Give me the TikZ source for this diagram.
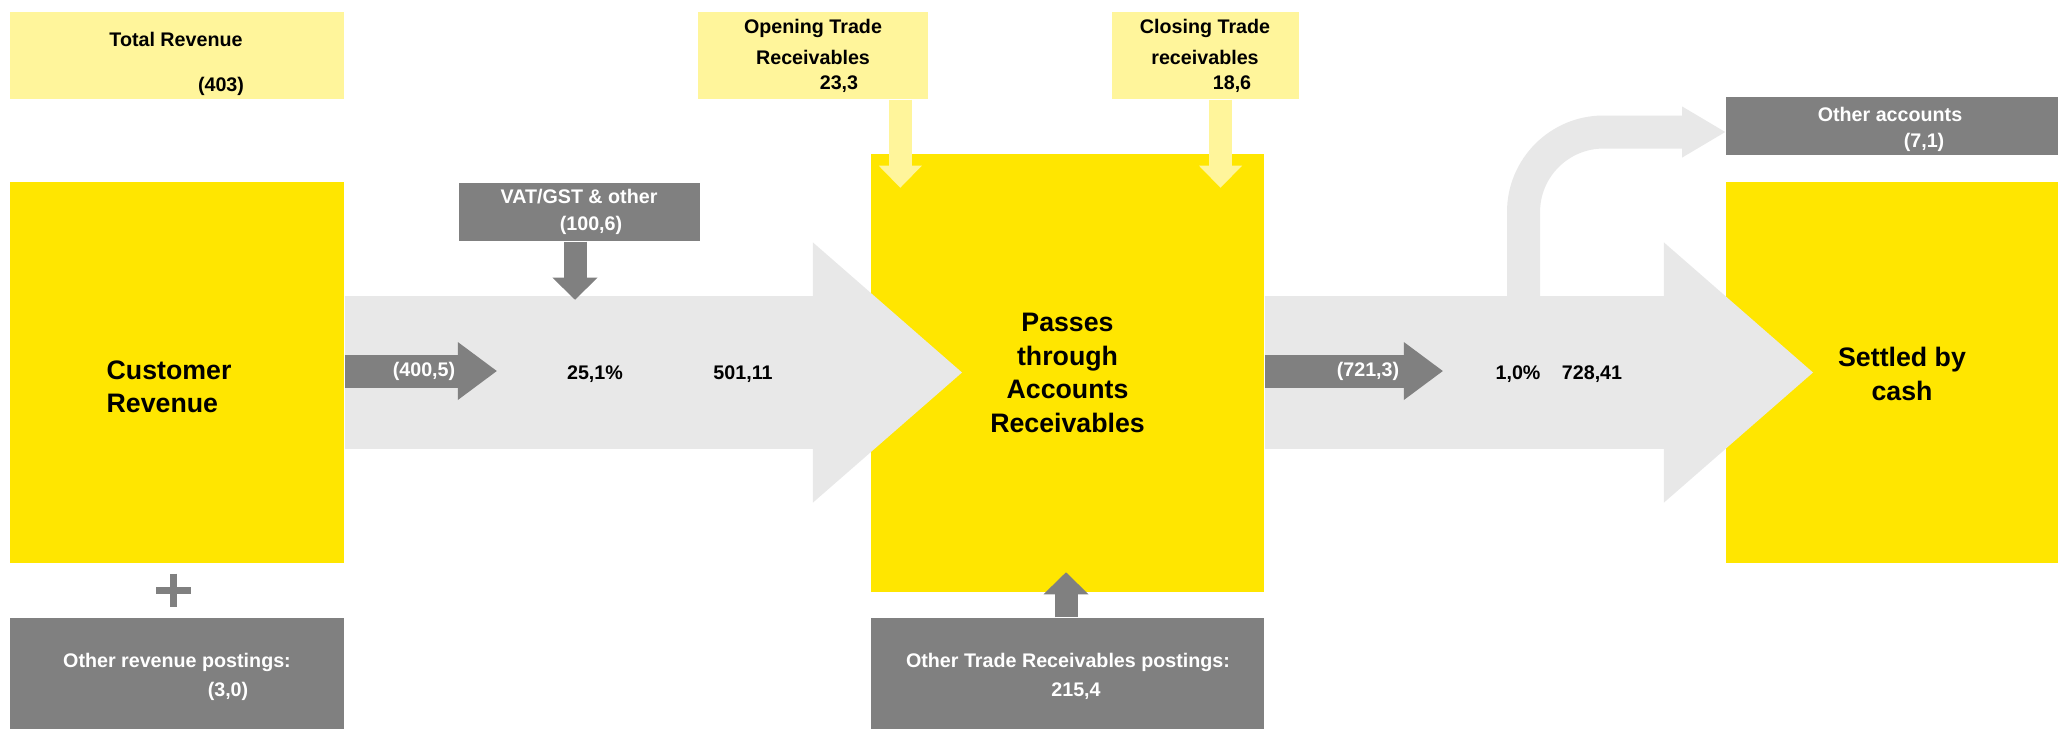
\documentclass[tikz,border=0pt]{standalone}
\usepackage{fontspec}
\setmainfont{Liberation Sans}
\usetikzlibrary{arrows.meta,calc}
\definecolor{eyyellow}{HTML}{FFE600}
\definecolor{paleyellow}{HTML}{FFF59B}
\definecolor{boxgrey}{HTML}{808080}
\definecolor{flowgrey}{HTML}{E8E8E8}

\begin{document}
\begin{tikzpicture}[x=0.01cm, y=-0.01cm,
		main/.style = {fill=eyyellow, inner sep=0pt},
		pale/.style = {fill=paleyellow, inner sep=0pt},
		grey/.style = {fill=boxgrey, inner sep=0pt},
		small/.style = {font=\fontsize{5.6}{6.7}\selectfont\bfseries, inner sep=0pt},
		big/.style = {font=\fontsize{7.6}{9.5}\selectfont\bfseries, inner sep=0pt, align=center},
		flow/.style = {flowgrey, line width=1.53cm, -{Triangle[length=1.49cm, width=2.6cm, line width=0pt]}},
		gflow/.style = {boxgrey, line width=0.33cm, -{Triangle[length=0.39cm, width=0.58cm, line width=0pt]}},
		pfeed/.style = {paleyellow, line width=0.23cm, -{Triangle[length=0.22cm, width=0.43cm, line width=0pt]}},
		gfeed/.style = {boxgrey, line width=0.23cm, -{Triangle[length=0.22cm, width=0.45cm, line width=0pt]}}]
		
		\fill[white] (0,0) rectangle (2058,729);
		\useasboundingbox (0,0) rectangle (2058,729);
		
		% boxes
		\node[pale, minimum width=3.34cm, minimum height=0.87cm] (total) at (177,55.5) {};
		\node[pale, minimum width=2.30cm, minimum height=0.87cm] (open) at (813,55.5) {};
		\node[pale, minimum width=1.87cm, minimum height=0.87cm] (close) at (1205.5,55.5) {};
		\node[main, minimum width=3.34cm, minimum height=3.81cm] (custrev) at (177,372.5) {};
		\node[grey, minimum width=2.41cm, minimum height=0.58cm] (vat) at (579.5,212) {};
		\node[main, minimum width=3.93cm, minimum height=4.38cm] (ar) at (1067.5,373) {};
		\node[grey, minimum width=3.34cm, minimum height=1.11cm] (otherrev) at (177,673.5) {};
		\node[grey, minimum width=3.93cm, minimum height=1.11cm] (othertr) at (1067.5,673.5) {};
		\node[grey, minimum width=3.32cm, minimum height=0.58cm] (othacc) at (1892,126) {};
		\node[main, minimum width=3.32cm, minimum height=3.81cm] (cash) at (1892,372.5) {};
		
		% big flows
		\coordinate (tipA) at (962,372.5);
		\coordinate (tipB) at (1813,372.5);
		\coordinate (branch) at (1523.5,320);
		\draw[flow] (custrev.east) -- (tipA);
		\draw[flow] (ar.east |- custrev.east) -- (tipB);
		\draw[flowgrey, line width=0.33cm, rounded corners=0.8cm, -{Triangle[length=0.43cm, width=0.51cm, line width=0pt]}] (branch) |- ($(othacc.west)+(0,6)$);
		
		% small flows
		\draw[gflow] ($(custrev.east)+(0,-1.5)$) -- ++(152,0);
		\draw[gflow] ($(ar.east)+(0,-2)$) -- ++(178,0);
		
		% feeds
		\draw[pfeed] ($(open.south east)+(-28.5,0)$) -- ++(0,88);
		\draw[pfeed] ($(close.south)+(15,0)$) -- ++(0,88);
		\draw[gfeed] ($(vat.south)+(-4.5,0)$) -- ++(0,58);
		\draw[gfeed] ($(othertr.north)+(-1.5,0)$) -- ++(0,-45);
		
		% plus
		\coordinate (plus) at (173.5,590);
		\draw[boxgrey, line width=0.07cm] ($(plus)+(-17.5,0)$) -- ++(35,0) ($(plus)+(0,-16.5)$) -- ++(0,33);
		
		% labels
		\node[small] (totallbl) at (176,39) {Total Revenue};
		\node[small] (totalval) at (221,86) {(403)};
		\node[small] (openlbl) at (813,28) {Opening Trade};
		\node[small] (openlbl2) at (813,57) {Receivables};
		\node[small] (openval) at (839,84) {23,3};
		\node[small] (closelbl) at (1205,28) {Closing Trade};
		\node[small] (closelbl2) at (1205,57) {receivables};
		\node[small] (closeval) at (1232,84) {18,6};
		\node[small, white] (vatlbl) at (579,197) {VAT/GST \& other};
		\node[small, white] (vatval) at (591,225) {(100,6)};
		\node[big, anchor=west, align=left] (custlbl) at (106,386.5) {Customer\\Revenue};
		\node[small, white] (revflow) at (424,371) {(400,5)};
		\node[small] (vatpct) at (595,374) {25,1\%};
		\node[small] (arin) at (743,374) {501,11};
		\node[big] (arlbl) at (ar) {Passes\\through\\Accounts\\Receivables};
		\node[small, white] (cashflow) at (1368,371) {(721,3)};
		\node[small] (othpct) at (1518,374) {1,0\%};
		\node[small] (cashin) at (1592,374) {728,41};
		\node[small, white] (othacclbl) at (1890,114) {Other accounts};
		\node[small, white] (othaccval) at (1924,142) {(7,1)};
		\node[big] (cashlbl) at (1902,374) {Settled by\\cash};
		\node[small, white] (otherrevlbl) at (177,662) {Other revenue postings:};
		\node[small, white] (otherrevval) at (228,691) {(3,0)};
		\node[small, white] (othertrlbl) at (1068,662) {Other Trade Receivables postings:};
		\node[small, white] (othertrval) at (1076,691) {215,4};
		
	\end{tikzpicture}
\end{document}
